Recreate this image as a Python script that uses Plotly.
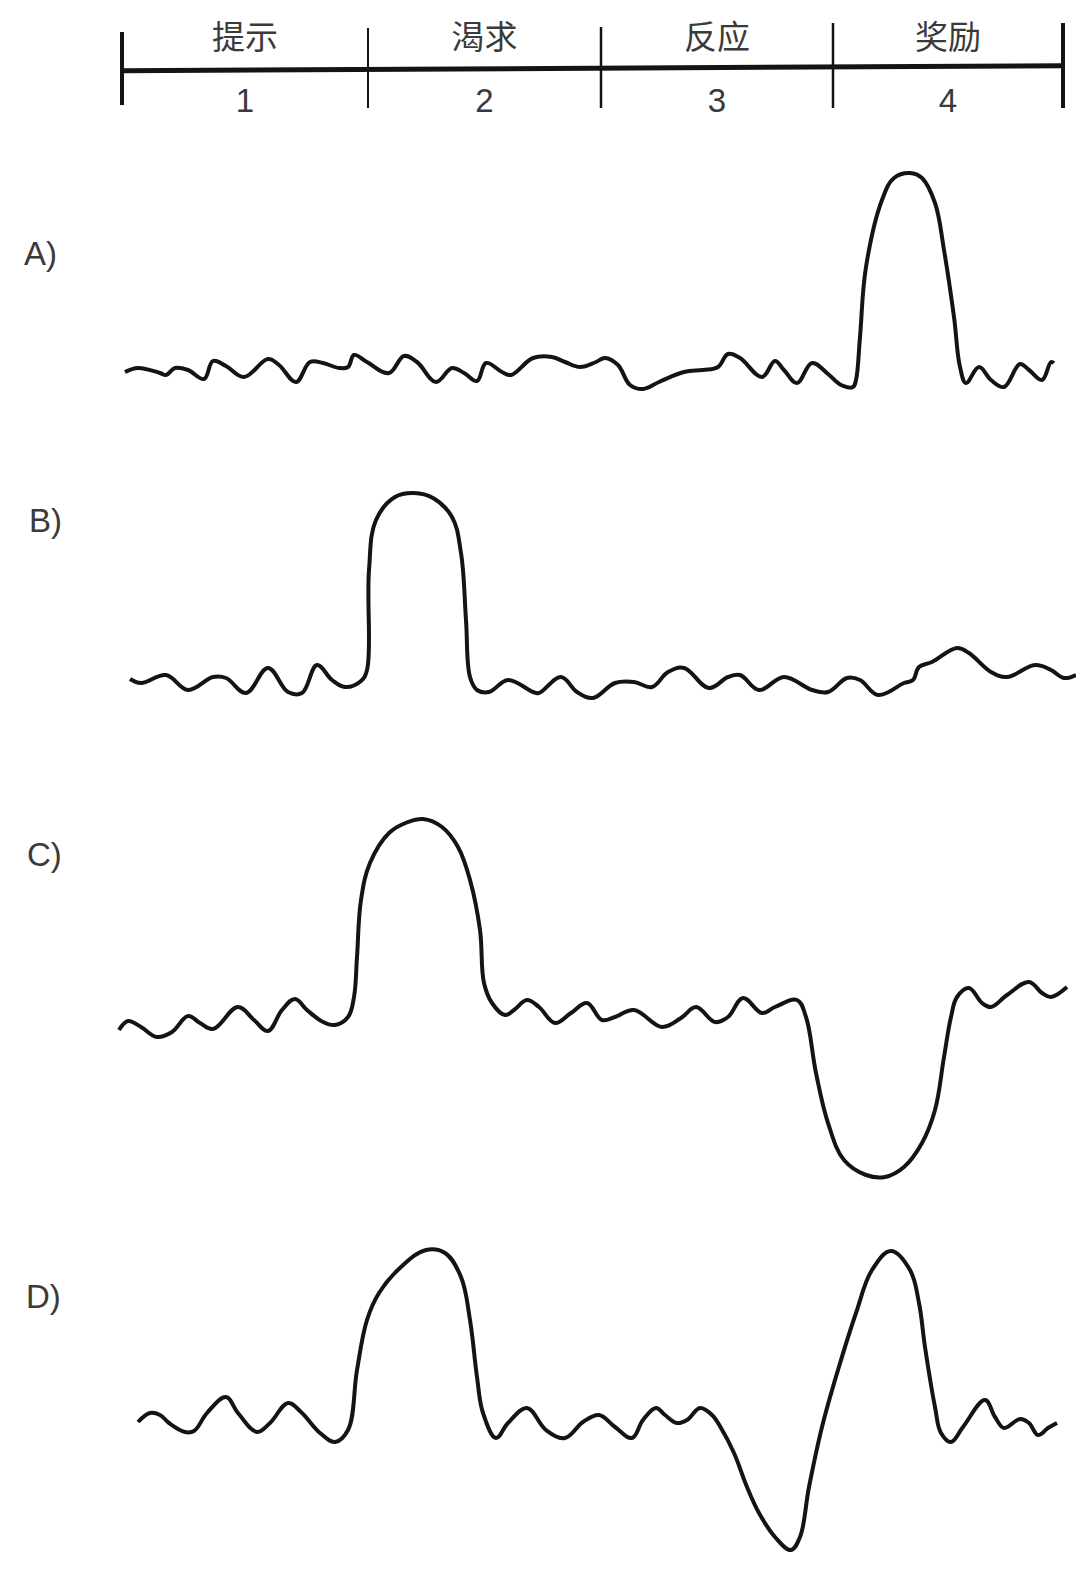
import plotly.graph_objects as go

# ---------------- data (time t in drawing units, amplitude relative to baseline) ----------------
phase_names = ["提示", "渴求", "反应", "奖励"]
phase_numbers = ["1", "2", "3", "4"]
phase_bounds = [2, 248, 481, 713, 943]
timeline_level = [-0.7, 0.7, 2.3, 3.3, 4.3]
tick_top = [38, 42, 43, 47, 47]
tick_bottom = [-35, -38, -38, -38, -38]
tick_widths = [4, 2, 2.5, 2.5, 4]

trace_labels = ["A)", "B)", "C)", "D)"]

a_t = [5, 18, 40, 46, 55, 68, 84, 93, 106, 124, 148, 159, 176, 190, 203, 219, 228, 234, 247, 269,
       284, 297, 316, 332, 344, 357, 366, 382, 391, 413, 432, 445, 460, 476, 485, 498, 510, 523,
       539, 564, 583, 598, 608, 620, 642, 655, 664, 677, 692, 708, 721, 733, 736, 740, 746, 762,
       774, 790, 802, 815, 824, 834, 840, 846, 859, 871, 884, 900, 909, 922, 931, 934]
a_v = [-2, 2, -3, -5, 2, 0, -9, 9, 4, -7, 11, 5, -12, 8, 7, 2, 3, 15, 8, -3,
       14, 8, -12, 2, -3, -11, 7, -2, -5, 12, 13, 8, 3, 8, 12, 5, -15, -19,
       -12, -2, 0, 3, 16, 12, -7, 9, 0, -13, 7, -4, -15, -17, -10, 33, 103, 170,
       192, 197, 192, 167, 120, 53, 3, -13, 3, -10, -17, 6, 0, -10, 8, 7]

b_t = [10, 21, 46, 68, 93, 106, 126, 148, 168, 182, 197, 212, 225, 241, 247, 249, 256, 275, 294,
       313, 332, 341, 346, 350, 357, 369, 388, 413, 419, 441, 457, 473, 495, 514, 532, 548, 564,
       589, 608, 620, 639, 664, 692, 708, 727, 740, 758, 784, 793, 799, 812, 837, 849, 871, 887,
       915, 931, 944, 956]
b_v = [4, 0, 8, -7, 6, 5, -10, 15, -9, -10, 18, 3, -4, 2, 13, 113, 163, 186, 190,
       185, 166, 130, 63, 6, -7, -9, 3, -9, -10, 6, -9, -15, 0, 1, -4, 11, 15,
       -5, 6, 8, -7, 6, -7, -9, 5, 3, -12, 0, 3, 16, 21, 35, 30, 11, 6,
       18, 13, 5, 8]

c_t = [-1, 8, 21, 37, 52, 68, 80, 93, 118, 134, 148, 162, 175, 187, 203, 215, 228, 234, 237, 241,
       250, 269, 288, 303, 322, 338, 350, 360, 364, 372, 385, 394, 407, 419, 435, 451, 467, 482,
       495, 514, 542, 561, 576, 595, 608, 623, 642, 655, 677, 686, 696, 708, 724, 746, 765, 784,
       802, 815, 824, 831, 837, 849, 862, 871, 887, 909, 922, 931, 947]
c_v = [-20, -11, -17, -27, -22, -6, -13, -19, 3, -10, -21, 0, 11, 0, -12, -15, -7, 13, 53, 110,
       147, 177, 188, 191, 183, 163, 130, 80, 27, 7, -5, 0, 10, 3, -13, -3, 7, -10,
       -7, 0, -17, -8, 3, -12, -7, 12, -3, 3, 10, -7, -63, -113, -150, -165, -167, -157,
       -133, -100, -47, -7, 13, 22, 7, 3, 15, 28, 17, 13, 23]

d_t = [18, 30, 40, 49, 65, 74, 87, 106, 118, 137, 150, 168, 181, 200, 215, 228, 237, 247, 259,
       281, 306, 325, 341, 350, 357, 363, 376, 388, 407, 426, 445, 463, 479, 495, 512, 523, 536,
       545, 557, 567, 580, 592, 601, 614, 627, 639, 655, 671, 680, 689, 702, 718, 736, 752, 771,
       790, 799, 805, 815, 821, 831, 843, 865, 875, 884, 900, 909, 918, 928, 937]
d_v = [-2, 7, 5, -3, -12, -11, 7, 23, 7, -12, -3, 17, 8, -13, -22, -10, 50, 100, 127,
       153, 170, 167, 143, 100, 43, 7, -18, -3, 12, -10, -18, -2, 5, -7, -18, 0, 12,
       5, -3, 0, 12, 5, -8, -33, -67, -93, -117, -130, -117, -67, -7, 50, 107, 150, 169,
       150, 117, 73, 13, -13, -22, -7, 20, 3, -8, 1, -3, -15, -8, -3]

series = [(a_t, a_v), (b_t, b_v), (c_t, c_v), (d_t, d_v)]

# ---------------- layout constants ----------------
W, H = 1084, 1580
PAGE_PAD = 8            # default body margin of the html page
X_OFFSET = 120 - PAGE_PAD
TIMELINE_BASE = 70 - PAGE_PAD
BASELINES = [b - PAGE_PAD for b in [370, 683, 1010, 1420]]
LABEL_POS = [(40, 254), (45, 521), (44, 854), (43, 1296)]
INK = "#141414"
TEXT = "#3a3a3a"

fig = go.Figure()

# timeline (axis y)
fig.add_trace(go.Scatter(x=phase_bounds, y=timeline_level, mode="lines",
                         line=dict(color=INK, width=5), hoverinfo="skip",
                         showlegend=False, yaxis="y"))
for b, top, bot, w in zip(phase_bounds, tick_top, tick_bottom, tick_widths):
    fig.add_trace(go.Scatter(x=[b, b], y=[bot, top], mode="lines",
                             line=dict(color=INK, width=w), hoverinfo="skip",
                             showlegend=False, yaxis="y"))
mids = [(phase_bounds[i] + phase_bounds[i + 1]) / 2 for i in range(4)]
fig.add_trace(go.Scatter(x=mids, y=[29] * 4, mode="text", text=phase_names,
                         textposition="middle center",
                         textfont=dict(family="Noto Sans CJK SC", size=33, color=TEXT),
                         hoverinfo="skip", showlegend=False, yaxis="y"))
fig.add_trace(go.Scatter(x=mids, y=[-34] * 4, mode="text", text=phase_numbers,
                         textposition="middle center",
                         textfont=dict(family="Liberation Sans", size=33, color=TEXT),
                         hoverinfo="skip", showlegend=False, yaxis="y"))

# response traces
for i, (t, v) in enumerate(series):
    fig.add_trace(go.Scatter(x=t, y=v, mode="lines",
                             line=dict(color=INK, width=4, shape="spline", smoothing=1.1),
                             hoverinfo="skip", showlegend=False, yaxis=f"y{i + 2}"))

axis_hidden = dict(visible=False, showgrid=False, zeroline=False, fixedrange=True)
layout = dict(
    width=W, height=H,
    margin=dict(l=0, r=0, t=0, b=0),
    paper_bgcolor="white", plot_bgcolor="white",
    xaxis=dict(range=[-X_OFFSET, W - X_OFFSET], domain=[0, 1], **axis_hidden),
    yaxis=dict(range=[TIMELINE_BASE - H, TIMELINE_BASE], domain=[0, 1], **axis_hidden),
)
for i, base in enumerate(BASELINES):
    layout[f"yaxis{i + 2}"] = dict(range=[base - H, base], domain=[0, 1],
                                   overlaying="y", **axis_hidden)

annotations = []
for lab, (px, py) in zip(trace_labels, LABEL_POS):
    annotations.append(dict(text=lab, xref="paper", yref="paper",
                            x=(px - PAGE_PAD) / W, y=1 - (py - PAGE_PAD) / H,
                            xanchor="center", yanchor="middle", showarrow=False,
                            font=dict(family="Liberation Sans", size=33, color=TEXT)))
layout["annotations"] = annotations
fig.update_layout(**layout)

fig.write_html("out.html")
